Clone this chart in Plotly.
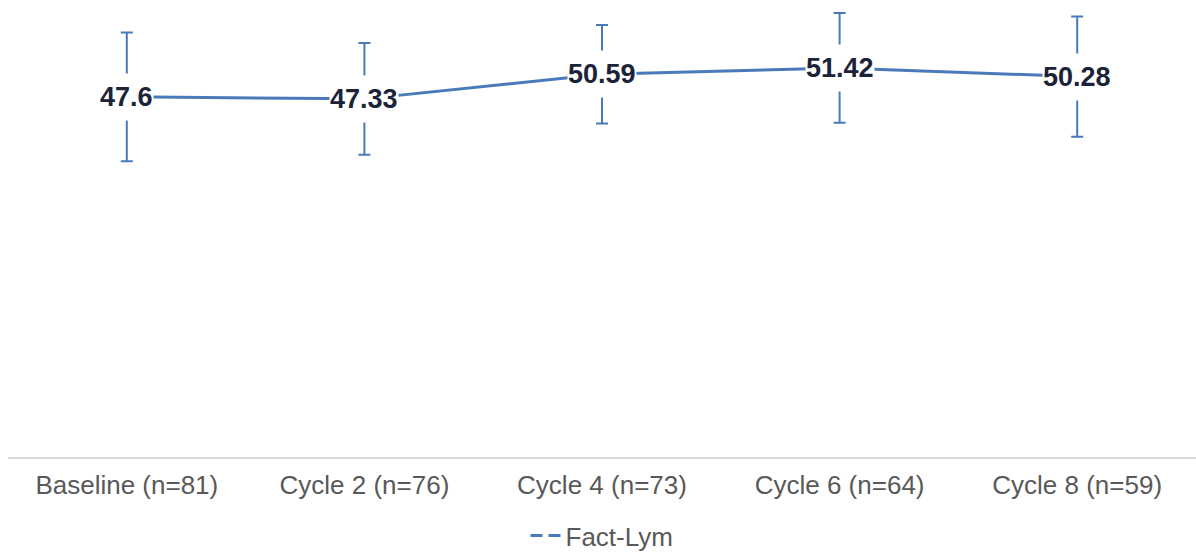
import plotly.graph_objects as go

categories = ["Baseline (n=81)", "Cycle 2 (n=76)", "Cycle 4 (n=73)", "Cycle 6 (n=64)", "Cycle 8 (n=59)"]
values = [47.6, 47.33, 50.59, 51.42, 50.28]
errors = [8.5, 7.4, 6.5, 7.25, 7.95]
labels = ["47.6", "47.33", "50.59", "51.42", "50.28"]
series_name = "Fact-Lym"

blue = "#4a7ab9"
gray = "#595959"

fig = go.Figure()
fig.add_trace(go.Scatter(
    x=categories, y=values, mode="lines",
    line=dict(color=blue, width=3),
    error_y=dict(type="data", array=errors, color=blue, thickness=2, width=6),
    showlegend=False, hoverinfo="skip",
))
fig.add_trace(go.Scatter(
    x=[None], y=[None], mode="lines", name=series_name,
    line=dict(color=blue, width=3, dash="12px,6px"),
    showlegend=True,
))

for c, v, t in zip(categories, values, labels):
    fig.add_annotation(
        x=c, y=v, text="<b>" + t + "</b>", showarrow=False,
        font=dict(family="Liberation Sans, Arial", size=27, color="#1b2338"),
        bgcolor="white", borderpad=0, height=46, valign="middle",
    )

fig.update_layout(
    width=1196, height=559,
    margin=dict(l=8, r=0, t=3, b=96),
    paper_bgcolor="white", plot_bgcolor="white",
    font=dict(family="Liberation Sans, Arial", color=gray),
    xaxis=dict(
        type="category", range=[-0.5, 4.5],
        showline=True, linecolor="#d9d9d9", linewidth=2,
        ticks="", showgrid=False, zeroline=False,
        tickfont=dict(size=26, color=gray), ticklabelstandoff=4,
    ),
    yaxis=dict(range=[0, 60], visible=False, showgrid=False, zeroline=False),
    legend=dict(
        orientation="h", x=0.5, xanchor="center", y=-0.174, yanchor="middle",
        font=dict(size=26, color=gray), itemwidth=30,
    ),
)

fig.write_html("out.html", config={"displayModeBar": False},
               post_script="document.body.style.margin='0';")
